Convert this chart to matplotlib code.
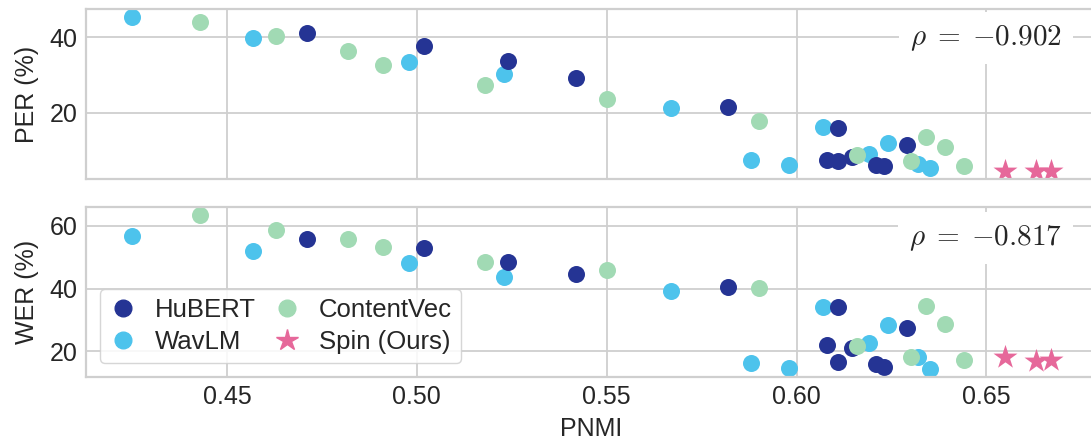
import numpy as np
import matplotlib
matplotlib.use("Agg")
import matplotlib.pyplot as plt
from matplotlib.lines import Line2D

# ---- data ----
hubert_pnmi = [0.471, 0.502, 0.524, 0.542, 0.582, 0.611, 0.608, 0.611, 0.6147, 0.621, 0.623, 0.629]
hubert_per = [41.1, 37.7, 33.8, 29.3, 21.4, 16.0, 7.3, 7.1, 8.3, 6.1, 5.8, 11.5]
hubert_wer = [55.7, 52.9, 48.5, 44.8, 40.5, 34.0, 22.0, 16.6, 21.0, 15.8, 14.8, 27.3]

wavlm_pnmi = [0.425, 0.457, 0.498, 0.523, 0.567, 0.588, 0.598, 0.607, 0.619, 0.624, 0.632, 0.635]
wavlm_per = [45.5, 39.8, 33.5, 30.4, 21.3, 7.35, 6.2, 16.1, 9.0, 12.0, 6.4, 5.3]
wavlm_wer = [56.9, 52.0, 48.3, 43.8, 39.3, 16.1, 14.6, 34.0, 22.6, 28.3, 18.0, 14.2]

cvec_pnmi = [0.443, 0.463, 0.482, 0.491, 0.518, 0.550, 0.590, 0.616, 0.630, 0.634, 0.639, 0.644]
cvec_per = [44.0, 40.35, 36.5, 32.6, 27.4, 23.5, 17.9, 8.7, 7.2, 13.6, 10.8, 5.8]
cvec_wer = [63.6, 58.6, 55.7, 53.2, 48.6, 45.9, 40.1, 21.7, 18.0, 34.3, 28.6, 17.1]

spin_pnmi = [0.655, 0.663, 0.667]
spin_per = [4.4, 4.5, 4.5]
spin_wer = [18.2, 16.9, 17.1]

rho_per = -0.902
rho_wer = -0.817

C_HUBERT = "#253494"
C_WAVLM = "#4dc3ec"
C_CVEC = "#a1dab4"
C_SPIN = "#e6689a"
GRID = "#cfcfcf"
TXT = "#262626"

plt.rcParams["font.family"] = ["Liberation Sans", "DejaVu Sans"]
plt.rcParams["mathtext.fontset"] = "cm"
plt.rcParams["font.size"] = 18

fig = plt.figure(figsize=(10.91, 4.42), dpi=100)
W, H = 1091.0, 442.0
left = 86 / W
width = 1011 / W  # right part of the axes runs past the figure edge, as in the reference
ax1 = fig.add_axes([left, 1 - 179 / H, width, 170 / H])
ax2 = fig.add_axes([left, 1 - 377 / H, width, 170 / H], sharex=ax1)

panels = [
    (ax1, hubert_per, wavlm_per, cvec_per, spin_per, "PER (%)", rho_per, [20, 40], 0.83),
    (ax2, hubert_wer, wavlm_wer, cvec_wer, spin_wer, "WER (%)", rho_wer, [20, 40, 60], 0.815),
]

for ax, hy, wy, cy, sy, ylabel, rho, yt, ty in panels:
    ax.set_axisbelow(True)
    ax.grid(True, color=GRID, linewidth=1.3)
    for side, sp in ax.spines.items():
        sp.set_color(GRID)
        sp.set_linewidth(1.6)
    ax.tick_params(length=0, labelsize=18, colors=TXT, pad=6)
    ax.scatter(wavlm_pnmi, wy, s=150, color=C_WAVLM, linewidths=0, label="WavLM")
    ax.scatter(hubert_pnmi, hy, s=150, color=C_HUBERT, linewidths=0, label="HuBERT")
    ax.scatter(cvec_pnmi, cy, s=150, color=C_CVEC, linewidths=0, label="ContentVec")
    ax.scatter(spin_pnmi, sy, s=330, marker="*", color=C_SPIN, linewidths=0, label="Spin (Ours)")
    ax.set_yticks(yt)
    ax.set_ylabel(ylabel, fontsize=18, color=TXT, labelpad=8)
    label = r"$\rho\;=\;{-}%.3f$" % abs(rho)
    ax.text(0.890, ty, label, transform=ax.transAxes,
            ha="center", va="center", fontsize=21, color=TXT, zorder=10,
            bbox=dict(boxstyle="square,pad=0.38", facecolor="white", edgecolor="none"))

ax1.set_xlim(0.4129, 0.6791)
ax1.set_xticks([0.45, 0.50, 0.55, 0.60, 0.65])
ax2.set_xticklabels(["0.45", "0.50", "0.55", "0.60", "0.65"])
plt.setp(ax1.get_xticklabels(), visible=False)
ax2.set_xlabel("PNMI", fontsize=18, color=TXT)
ax2.xaxis.set_label_coords(0.5, -0.235)

handles = [
    Line2D([], [], marker="o", linestyle="", markersize=12, color=C_HUBERT, label="HuBERT"),
    Line2D([], [], marker="o", linestyle="", markersize=12, color=C_WAVLM, label="WavLM"),
    Line2D([], [], marker="o", linestyle="", markersize=12, color=C_CVEC, label="ContentVec"),
    Line2D([], [], marker="*", linestyle="", markersize=16, color=C_SPIN, label="Spin (Ours)"),
]
leg = ax2.legend(handles=handles, ncol=2, loc="lower left", fontsize=18.5,
                 frameon=True, fancybox=True, framealpha=0.85, edgecolor=GRID,
                 handlelength=1.06, handletextpad=0.72, columnspacing=0.68,
                 labelspacing=0.3, borderpad=0.35, borderaxespad=0.55)
for t in leg.get_texts():
    t.set_color(TXT)

fig.savefig("out.png", dpi=100)
